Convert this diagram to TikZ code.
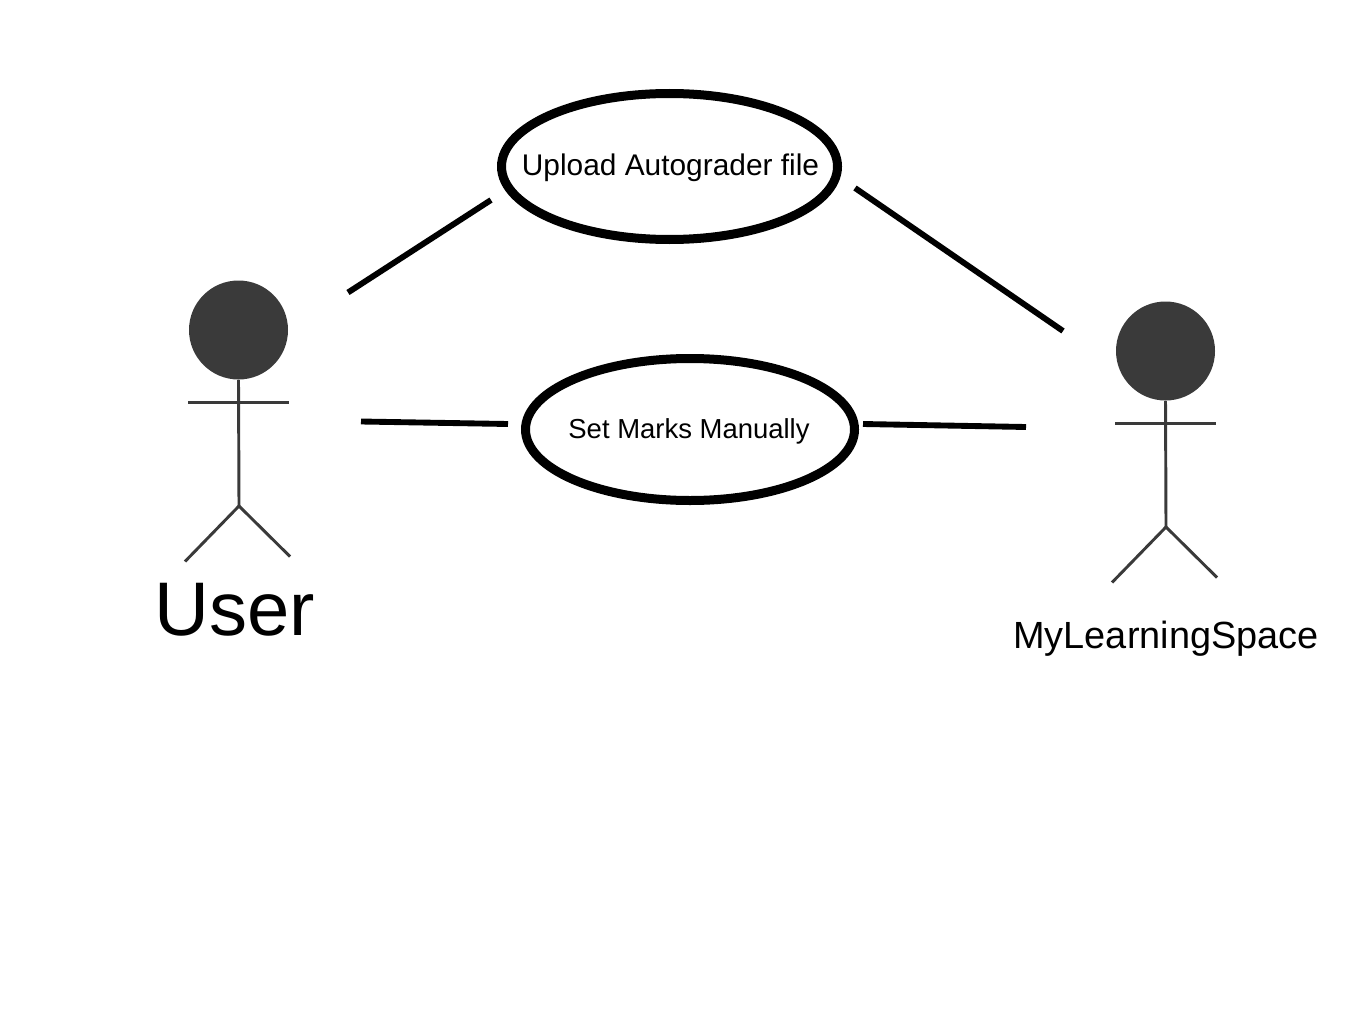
\documentclass[tikz,border=0pt]{standalone}
\usepackage{fontspec}
\setmainfont{Liberation Sans}
\usepackage{tikz}
\usetikzlibrary{shapes.geometric}
\definecolor{figgray}{HTML}{3A3A3A}
\tikzset{
    usecase/.style={draw=black, ellipse, line width=6.75pt, inner sep=0pt, minimum width=336*0.75pt, minimum height=146*0.75pt},
    limb/.style={draw=figgray, line width=2.2pt},
    assoc/.style={draw=black, line width=4.4pt},
    head/.style={circle, fill=figgray, inner sep=0pt, minimum size=99*0.75pt}
}

\begin{document}
\begin{tikzpicture}[x=0.75pt, y=-0.75pt]

        \useasboundingbox (0, 0) rectangle (1362, 1020);

        % Use cases
        \node[usecase] (upload) at (669.5, 166.5) {};
        \node[font=\fontsize{22.4pt}{26pt}\selectfont] (uploadtext) at (670.5, 168) {Upload Autograder file};
        \node[usecase, minimum width=329*0.75pt, minimum height=142*0.75pt] (marks) at (690, 429.5) {};
        \node[font=\fontsize{20.6pt}{24pt}\selectfont] (markstext) at (689, 431) {Set Marks Manually};

        % Actors
        \foreach \name/\dx/\dy in {user/0/0, mls/927/21} {
            \node[head] (\name head) at (238.5 + \dx, 330 + \dy) {};
            \coordinate (\name hip) at (239 + \dx, 506 + \dy);
            \coordinate (\name armL) at (188 + \dx, 402.5 + \dy);
            \coordinate (\name armR) at (288.5 + \dx, 402.5 + \dy);
            \coordinate (\name legL) at (185 + \dx, 561.5 + \dy);
            \coordinate (\name legR) at (290 + \dx, 556.5 + \dy);
            \draw[limb] (\name head.south) -- (\name hip); % body
            \draw[limb] (\name armL) -- (\name armR);
            \draw[limb] (\name legL) -- (\name hip) -- (\name legR);
        }

        \node[font=\fontsize{57pt}{60pt}\selectfont] (userlabel) at (234.5, 610) {User};
        \node[font=\fontsize{28.4pt}{32pt}\selectfont] (mlslabel) at (1166, 639) {MyLearningSpace};

        % Associations
        \coordinate (userA) at (348, 292.5);
        \coordinate (uploadA) at (491, 200);
        \coordinate (uploadB) at (855, 188);
        \coordinate (mlsA) at (1063, 331);
        \coordinate (userB) at (361, 421.5);
        \coordinate (marksA) at (508, 424);
        \coordinate (marksB) at (863, 424);
        \coordinate (mlsB) at (1026, 427);

        \draw[assoc] (userA) -- (uploadA);
        \draw[assoc] (uploadB) -- (mlsA);
        \draw[assoc] (userB) -- (marksA);
        \draw[assoc] (marksB) -- (mlsB);

\end{tikzpicture}
\end{document}
